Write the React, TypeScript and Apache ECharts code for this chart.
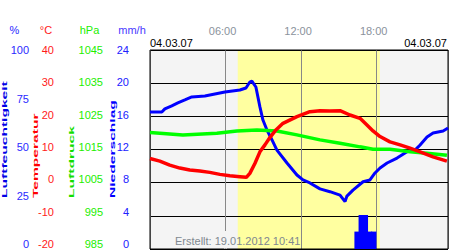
import React, { useEffect, useRef } from 'react';
import * as echarts from 'echarts';

const FONT = '"Liberation Sans", Arial, Helvetica, sans-serif';

// time axis (hours of 04.03.07)
const xMax = 23 + 40 / 60;
const timeTickHours = [6, 12, 18];
const timeTickLabels = ['06:00', '12:00', '18:00'];
const sunrise = 6.97;
const sunset = 18.25;

// tick labels of the four scales
const humidityTicks = [0, 25, 50, 75, 100];
const temperatureTicks = [-20, -10, 0, 10, 20, 30, 40];
const pressureTicks = [985, 995, 1005, 1015, 1025, 1035, 1045];
const precipTicks = [0, 4, 8, 12, 16, 20, 24];

// Luftfeuchtigkeit (%)
const humHours = [0, 0.94, 1.18, 1.73, 2.21, 2.77, 3.32, 4.36, 5.95, 7.14, 7.62, 7.93, 8.09, 8.41, 8.73, 8.97, 9.29, 9.69, 10.08, 10.88, 11.67, 12.15, 12.7, 13.5, 14.29, 15.09, 15.49, 15.64, 16.12, 16.92, 17.47, 17.87, 18.27, 18.83, 19.62, 20.41, 21.05, 21.45, 22.0, 22.48, 23.28, 23.67];
const humidity = [68.8, 68.8, 70.4, 71.9, 73.4, 74.9, 76.4, 76.9, 78.9, 79.9, 80.9, 83.9, 84.4, 81.4, 71.4, 64.8, 59.8, 54.8, 49.7, 43.2, 37.2, 34.7, 33.2, 30.2, 28.8, 27.1, 23.8, 26.6, 29.6, 33.8, 34.7, 38.2, 40.7, 43.2, 45.7, 48.9, 49.7, 52.3, 56.3, 58.3, 59.3, 60.8];

// Temperatur (°C)
const tempHours = [0, 0.78, 1.57, 2.37, 3.16, 3.96, 4.75, 5.55, 6.34, 7.14, 7.65, 7.93, 8.33, 8.73, 9.13, 9.52, 10.0, 10.56, 11.67, 12.7, 13.5, 14.29, 15.09, 15.88, 16.68, 17.23, 17.71, 18.27, 19.06, 19.86, 20.65, 21.45, 22.48, 23.58];
const temperature = [7.3, 6.5, 5.3, 4.4, 3.8, 3.5, 3.1, 2.5, 2.1, 1.8, 1.6, 2.8, 5.8, 9.3, 11.4, 13.6, 15.9, 17.9, 19.9, 21.4, 21.7, 21.6, 21.7, 20.4, 19.4, 17.4, 15.6, 13.9, 12.3, 11.4, 10.4, 9.3, 7.8, 6.5];

// Luftdruck (hPa)
const presHours = [0, 2.61, 5.31, 6.9, 8.49, 10.08, 11.67, 13.5, 15.09, 16.68, 17.71, 19.06, 20.65, 22.0, 23.58];
const pressure = [1020.1, 1019.4, 1019.9, 1020.6, 1020.9, 1020.6, 1019.4, 1017.9, 1016.9, 1015.8, 1015.1, 1015.1, 1014.3, 1013.9, 1013.3];

// Niederschlag (mm/h)
const precipHours = [16.44, 16.77, 17.11, 17.44, 17.77];
const precipitation = [2.1, 4.1, 4.1, 2.1, 2.1];

const zip = (xs: number[], ys: number[]) => xs.map((x, i) => [x, ys[i]]);

const BLUE = '#0000ff';
const RED = '#ff0000';
const GREEN = '#00ff00';

function labelAxis(ticks: number[], offset: number, color: string) {
  return {
    gridIndex: 1,
    type: 'value',
    position: 'left',
    offset,
    min: ticks[0],
    max: ticks[ticks.length - 1],
    interval: ticks[1] - ticks[0],
    axisLine: { show: false },
    axisTick: { show: false },
    splitLine: { show: false },
    axisLabel: { color, fontSize: 11, margin: 4, fontFamily: FONT, formatter: (v: number) => String(v) },
  };
}

function hiddenAxis(ticks: number[]) {
  return {
    gridIndex: 0,
    type: 'value',
    show: false,
    min: ticks[0],
    max: ticks[ticks.length - 1],
    interval: ticks[1] - ticks[0],
  };
}

function vTitle(text: string, x: number, color: string) {
  return {
    type: 'text',
    x,
    y: 198,
    rotation: Math.PI / 2,
    scaleX: 1.95,
    scaleY: 1,
    z: 10,
    style: {
      text,
      fill: color,
      font: 'bold 8px ' + FONT,
      textAlign: 'left',
      textVerticalAlign: 'middle',
    },
  };
}

function hText(text: string, x: number, y: number, color: string, align: string) {
  return {
    type: 'text',
    x,
    y,
    z: 10,
    style: {
      text,
      fill: color,
      font: '11px ' + FONT,
      textAlign: align,
      textVerticalAlign: 'middle',
    },
  };
}

export default function App() {
  const ref = useRef<HTMLDivElement>(null);
  useEffect(() => {
    if (!ref.current) return;
    const chart = echarts.init(ref.current, undefined, { renderer: 'svg' });
    const option: any = {
      animation: false,
      backgroundColor: '#ffffff',
      textStyle: { fontFamily: FONT },
      grid: [
        { left: 150, top: 50, width: 298, height: 199, show: true, borderColor: '#000', borderWidth: 1, backgroundColor: 'transparent', z: 4 },
        { left: 150, top: 50, width: 298, height: 194, show: false },
      ],
      xAxis: [
        {
          gridIndex: 0,
          type: 'value',
          position: 'top',
          min: 0,
          max: xMax,
          interval: 6,
          z: 3,
          axisLine: { show: false },
          axisTick: { show: false },
          axisLabel: {
            showMinLabel: false,
            showMaxLabel: false,
            color: '#8a929c',
            fontSize: 11,
            margin: 14,
            padding: [0, 6, 0, 0],
            formatter: (v: number) => {
              const i = timeTickHours.indexOf(v);
              return i >= 0 ? timeTickLabels[i] : '';
            },
          },
          splitLine: { show: true, lineStyle: { color: '#888888', width: 1 } },
        },
        { gridIndex: 1, type: 'value', min: 0, max: xMax, show: false },
      ],
      yAxis: [
        hiddenAxis(humidityTicks),
        {
          gridIndex: 0,
          type: 'value',
          min: temperatureTicks[0],
          max: temperatureTicks[temperatureTicks.length - 1],
          interval: 10,
          z: 3,
          axisLine: { show: false },
          axisTick: { show: false },
          axisLabel: { show: false },
          splitLine: { show: true, lineStyle: { color: '#000000', width: 1 } },
        },
        hiddenAxis(pressureTicks),
        hiddenAxis(precipTicks),
        labelAxis(humidityTicks, 117, '#2a2aff'),
        labelAxis(temperatureTicks, 92, '#ff1a1a'),
        labelAxis(pressureTicks, 43, '#22ee00'),
        labelAxis(precipTicks, 17, '#2020ff'),
      ],
      graphic: [
        hText('%', 14.5, 30, '#2a2aff', 'center'),
        hText('°C', 46, 30, '#ff1a1a', 'center'),
        hText('hPa', 89.5, 30, '#22ee00', 'center'),
        hText('mm/h', 132, 30, '#4a3aff', 'center'),
        hText('04.03.07', 150, 43, '#000000', 'left'),
        hText('04.03.07', 447, 43, '#000000', 'right'),
        vTitle('Luftfeuchtigkeit', 4, '#0000e6'),
        vTitle('Temperatur', 35.5, RED),
        vTitle('Luftdruck', 71, '#11dd00'),
        vTitle('Niederschlag', 112, BLUE),
        { type: 'rect', x: 224, y: 231, z: 9, shape: { width: 3, height: 17.5 }, style: { fill: '#f4f4f4' } },
        hText('Erstellt: 19.01.2012 10:41', 175, 241, '#808890', 'left'),
      ],
      series: [
        {
          type: 'line',
          xAxisIndex: 0,
          yAxisIndex: 1,
          data: [],
          z: 1,
          silent: true,
          markArea: {
            silent: true,
            z: 1,
            data: [
              [{ xAxis: 0, itemStyle: { color: '#f4f4f4' } }, { xAxis: xMax }],
              [{ xAxis: sunrise, itemStyle: { color: '#ffffa0' } }, { xAxis: sunset }],
            ],
          },
        },
        {
          type: 'bar',
          xAxisIndex: 0,
          yAxisIndex: 3,
          data: zip(precipHours, precipitation),
          barWidth: 5.2,
          itemStyle: { color: BLUE },
          z: 5,
        },
        {
          type: 'line',
          xAxisIndex: 0,
          yAxisIndex: 0,
          data: zip(humHours, humidity),
          showSymbol: false,
          lineStyle: { color: BLUE, width: 3 },
          z: 5,
        },
        {
          type: 'line',
          xAxisIndex: 0,
          yAxisIndex: 2,
          data: zip(presHours, pressure),
          showSymbol: false,
          lineStyle: { color: GREEN, width: 3.5 },
          z: 5,
        },
        {
          type: 'line',
          xAxisIndex: 0,
          yAxisIndex: 1,
          data: zip(tempHours, temperature),
          showSymbol: false,
          lineStyle: { color: RED, width: 3.5 },
          z: 5,
        },
      ],
    };
    chart.setOption(option);
    return () => chart.dispose();
  }, []);
  return <div ref={ref} style={{ position: 'fixed', left: 0, top: 0, width: 450, height: 250 }} />;
}
